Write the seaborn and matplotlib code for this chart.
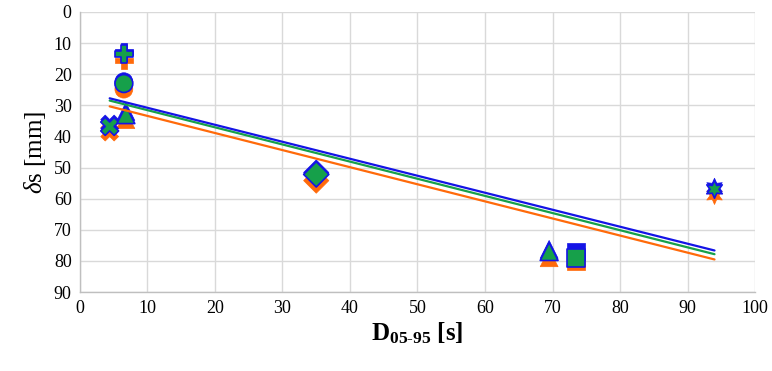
import matplotlib
matplotlib.use("Agg")
import matplotlib.pyplot as plt
import numpy as np
import pandas as pd
import seaborn as sns

# ── Data ──────────────────────────────────────────────
d0595 = [4.4, 6.5, 6.5, 6.8, 35.0, 69.5, 73.5, 94.0]
shapes = ["cross", "plus", "circle", "tri", "diamond", "tri", "square", "star"]
delta_blue = [36.0, 12.8, 22.4, 32.0, 51.6, 76.3, 77.0, 56.3]
delta_green = [36.8, 13.4, 23.0, 33.0, 52.2, 77.0, 79.2, 57.0]
delta_orange = [38.6, 15.6, 24.8, 34.6, 54.2, 79.0, 80.2, 59.0]

x_ticks = list(range(0, 101, 10))
y_ticks = list(range(0, 91, 10))

markers = {"cross": "X", "plus": "P", "circle": "o", "tri": "^",
           "diamond": "D", "square": "s", "star": (6, 1, 0)}

ORANGE = "#FF6A0A"
BLUE = "#1414E6"
GREEN = "#16A04A"

sns.set_theme(style="whitegrid")
plt.rcParams["font.family"] = "serif"
plt.rcParams["font.serif"] = ["Liberation Serif", "DejaVu Serif"]
plt.rcParams["mathtext.fontset"] = "custom"
plt.rcParams["mathtext.rm"] = "Liberation Serif"
plt.rcParams["mathtext.it"] = "Liberation Serif:italic"
plt.rcParams["mathtext.bf"] = "Liberation Serif:bold"

fig, ax = plt.subplots(figsize=(7.72, 3.71), dpi=100)
fig.subplots_adjust(left=0.1036, right=0.978, top=0.9677, bottom=0.2129)

series = [
    (delta_orange, ORANGE, ORANGE, 0.5, 1),
    (delta_blue, BLUE, BLUE, 0.5, 2),
    (delta_green, GREEN, BLUE, 1.2, 3),
]
for vals, face, edge, lw, z in series:
    df = pd.DataFrame({"x": d0595, "y": vals, "shape": shapes})
    sns.scatterplot(data=df, x="x", y="y", style="shape", markers=markers,
                    color=face, edgecolor=edge, linewidth=lw, s=165,
                    legend=False, ax=ax, zorder=z)

# linear trend lines on top of markers
for vals, color in [(delta_orange, ORANGE), (delta_green, GREEN), (delta_blue, BLUE)]:
    sns.regplot(x=np.array(d0595), y=np.array(vals), scatter=False, ci=None,
                truncate=True, color=color, line_kws={"lw": 1.6, "zorder": 5},
                ax=ax)

ax.set_xlim(0, 100)
ax.set_ylim(90, 0)
ax.set_xticks(x_ticks)
ax.set_yticks(y_ticks)
ax.tick_params(labelsize=13, length=0, pad=6, labelcolor="black")
ax.grid(True, color="#D9D9D9", lw=1)
for side in ["top", "right"]:
    ax.spines[side].set_visible(False)
for side in ["left", "bottom"]:
    ax.spines[side].set_color("#BFBFBF")
    ax.spines[side].set_linewidth(1)

ax.set_xlabel(r"$\mathbf{D_{05\text{-}95}}$" + " [s]", fontsize=18,
              fontweight="bold", labelpad=2, color="black")
ax.set_ylabel(r"$\delta$s [mm]", fontsize=18, labelpad=4, color="black")

fig.savefig("out.png", dpi=100)
